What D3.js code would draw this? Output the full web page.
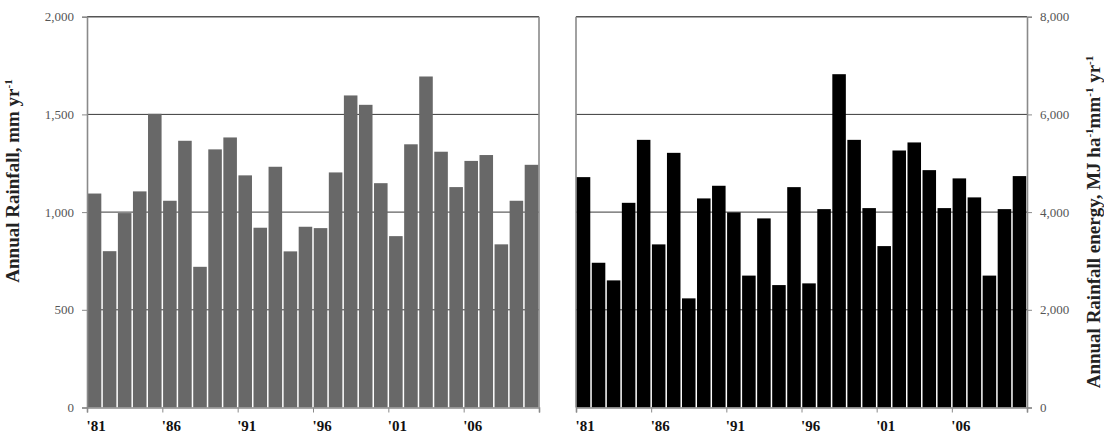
<!DOCTYPE html>
<html><head><meta charset="utf-8">
<script src="https://cdn.jsdelivr.net/npm/d3@7"></script>
<style>
body{margin:0;background:#fff;}
svg{display:block;}
</style></head>
<body>
<svg id="chart" width="1104" height="439"></svg>
<script>
const years = d3.range(1981, 2011);
const rainfall = [1095,800,995,1106,1503,1058,1365,720,1321,1382,1188,920,1232,799,925,918,1203,1597,1549,1148,877,1347,1694,1309,1128,1262,1292,835,1058,1242];
const energy = [4716,2963,2602,4190,5479,3339,5213,2234,4280,4539,3994,2700,3871,2506,4511,2541,4061,6823,5479,4082,3304,5261,5426,4859,4082,4690,4301,2700,4061,4737];
const xTickYears = [1981,1986,1991,1996,2001,2006,2011];
const leftTicks = [0,500,1000,1500,2000];
const rightTicks = [0,2000,4000,6000,8000];
const leftTitle = "Annual Rainfall, mm yr";
const rightTitle = "Annual Rainfall energy, MJ ha";

const svg = d3.select("#chart");
const plotTop = 16.7, plotBottom = 407.5;
const fmt = d3.format(",");
const serif = "'Liberation Serif','Times New Roman',serif";

function panel(x0, x1, values, yMax, yTicks, fill, side){
  const g = svg.append("g");
  const xl = d3.scaleLinear().domain([1981, 2011]).range([x0, x1]);
  const xb = d3.scaleBand().domain(years).range([x0, x1]).paddingInner(0.1).paddingOuter(0.05);
  const y = d3.scaleLinear().domain([0, yMax]).range([plotBottom, plotTop]);

  g.selectAll("line.grid").data(yTicks.filter(t => t > 0 && t < yMax)).join("line")
    .attr("x1", x0).attr("x2", x1).attr("y1", d => y(d)).attr("y2", d => y(d))
    .attr("stroke", "#3a3a3a").attr("stroke-width", 1);
  g.append("line").attr("x1", x0).attr("x2", x1).attr("y1", y(yMax)).attr("y2", y(yMax))
    .attr("stroke", "#555").attr("stroke-width", 1.4);
  const ox = side === "left" ? x1 : x0;
  g.append("line").attr("x1", ox).attr("x2", ox).attr("y1", plotTop).attr("y2", plotBottom)
    .attr("stroke", "#8a8a8a").attr("stroke-width", 1.6);

  g.selectAll("rect.bar").data(values).join("rect")
    .attr("x", (d, i) => xb(years[i]))
    .attr("width", xb.bandwidth())
    .attr("y", d => y(d))
    .attr("height", d => plotBottom - y(d))
    .attr("fill", fill);

  const ax = side === "left" ? d3.axisLeft(y) : d3.axisRight(y);
  ax.tickValues(yTicks).tickFormat(fmt).tickSize(5).tickPadding(8);
  const ya = g.append("g").attr("transform", `translate(${side === "left" ? x0 : x1},0)`).call(ax);
  ya.select(".domain").attr("stroke", "#8a8a8a").attr("stroke-width", 1.6);
  ya.selectAll(".tick line").attr("stroke", "#8a8a8a");
  ya.selectAll(".tick text").attr("font-family", serif).attr("font-size", 13).attr("fill", "#555");

  const xa = g.append("g").attr("transform", `translate(0,${plotBottom})`)
    .call(d3.axisBottom(xl).tickValues(xTickYears).tickSize(5).tickPadding(8)
      .tickFormat(d => d === 2011 ? "" : "'" + String(d).slice(2)));
  xa.select(".domain").attr("stroke", "#8a8a8a").attr("stroke-width", 1.6);
  xa.selectAll(".tick line").attr("stroke", "#8a8a8a");
  xa.selectAll(".tick text").attr("font-family", serif).attr("font-size", 15)
    .attr("font-weight", "bold").attr("fill", "#111").attr("text-anchor", "start").attr("dx", -1);
  return g;
}

panel(87, 539, rainfall, 2000, leftTicks, "#686868", "left");
panel(576, 1027, energy, 8000, rightTicks, "#000", "right");

const lt = svg.append("text").attr("transform", "translate(19,181) rotate(-90)")
  .attr("text-anchor", "middle").attr("font-family", serif).attr("font-size", 19)
  .attr("font-weight", "bold").attr("fill", "#222");
lt.append("tspan").text(leftTitle);
lt.append("tspan").attr("dy", -7).attr("font-size", 11).text("-1");

const rt = svg.append("text").attr("transform", "translate(1100,222) rotate(-90)")
  .attr("text-anchor", "middle").attr("font-family", serif).attr("font-size", 19)
  .attr("font-weight", "bold").attr("fill", "#222");
rt.append("tspan").text(rightTitle);
rt.append("tspan").attr("dy", -7).attr("font-size", 11).text("-1");
rt.append("tspan").attr("dy", 7).text("mm");
rt.append("tspan").attr("dy", -7).attr("font-size", 11).text("-1");
rt.append("tspan").attr("dy", 7).text(" yr");
rt.append("tspan").attr("dy", -7).attr("font-size", 11).text("-1");
</script>
</body></html>
